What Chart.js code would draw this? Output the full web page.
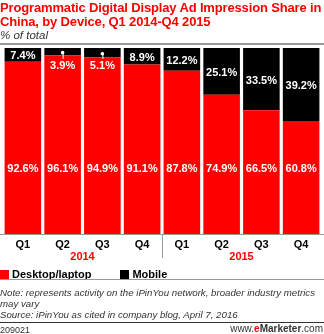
<!DOCTYPE html>
<html><head><meta charset="utf-8">
<script src="https://cdn.jsdelivr.net/npm/chart.js@4"></script>
<style>
html,body{margin:0;padding:0;background:#fff;}
body{width:324px;height:334px;position:relative;overflow:hidden;font-family:"Liberation Sans",Arial,sans-serif;}
#wrap{position:absolute;left:0;top:0;width:324px;height:334px;}
.t{position:absolute;left:0;white-space:nowrap;}
#title{top:1px;font-weight:bold;color:#ff0000;font-size:13px;line-height:14px;letter-spacing:-0.15px;}
#sub{top:29px;font-style:italic;font-size:11.5px;color:#333;}
#hl1{position:absolute;left:0;top:43px;width:324px;height:2px;background:#999;}
#legend{top:268px;font-weight:bold;font-size:11px;}
.sw{display:inline-block;width:9px;height:9px;vertical-align:-1px;margin-right:3px;}
#hl2{position:absolute;left:0;top:279px;width:324px;height:1px;background:#999;}
#note{top:288px;font-style:italic;font-size:9.7px;line-height:10.8px;color:#333;}
#hl3{position:absolute;left:0;top:322px;width:324px;height:1px;background:#333;}
#foot1{top:325px;font-size:9px;color:#333;}
#foot2{top:323px;left:auto;right:1px;font-size:10px;color:#333;}
</style></head>
<body>
<div id="wrap"><canvas id="c" width="324" height="334"></canvas></div>
<div class="t" id="title">Programmatic Digital Display Ad Impression Share in<br>China, by Device, Q1 2014-Q4 2015</div>
<div class="t" id="sub">% of total</div>
<div id="hl1"></div>
<div class="t" id="legend"><span class="sw" style="background:#ff0000"></span>Desktop/laptop<span style="display:inline-block;width:29px"></span><span class="sw" style="background:#000"></span>Mobile</div>
<div id="hl2"></div>
<div class="t" id="note">Note: represents activity on the iPinYou network, broader industry metrics<br>may vary<br>Source: iPinYou as cited in company blog, April 7, 2016</div>
<div id="hl3"></div>
<div class="t" id="foot1">209021</div>
<div class="t" id="foot2">www.<b><span style="color:#ff0000">e</span>Marketer</b>.com</div>
<script>
const quarters = ["Q1","Q2","Q3","Q4","Q1","Q2","Q3","Q4"];
const years = ["2014","2015"];
const desktop = [92.6, 96.1, 94.9, 91.1, 87.8, 74.9, 66.5, 60.8];
const mobile = [7.4, 3.9, 5.1, 8.9, 12.2, 25.1, 33.5, 39.2];

const labelPlugin = {
  id: 'labels',
  beforeDatasetsDraw(chart) {
    const ctx = chart.ctx, a = chart.chartArea;
    ctx.save();
    ctx.strokeStyle = '#999'; ctx.lineWidth = 1;
    ctx.beginPath(); ctx.moveTo(0, a.bottom + 0.5); ctx.lineTo(324, a.bottom + 0.5); ctx.stroke();
    ctx.restore();
  },
  afterDatasetsDraw(chart) {
    const ctx = chart.ctx, a = chart.chartArea;
    const x = chart.scales.x, y = chart.scales.y;
    ctx.save();
    ctx.font = 'bold 11px "Liberation Sans", Arial, sans-serif';
    ctx.textAlign = 'center'; ctx.textBaseline = 'middle';
    ctx.fillStyle = '#fff';
    desktop.forEach((v, i) => {
      ctx.fillText(v.toFixed(1) + '%', x.getPixelForValue(i), y.getPixelForValue(35));
    });
    mobile.forEach((v, i) => {
      const cx = x.getPixelForValue(i);
      const top = y.getPixelForValue(100), bot = y.getPixelForValue(desktop[i]);
      if (v < 6) {
        const dy = (top + bot) / 2 + 1;
        ctx.fillStyle = '#fff'; ctx.strokeStyle = '#fff'; ctx.lineWidth = 1;
        ctx.beginPath(); ctx.arc(cx, dy, 1.8, 0, Math.PI * 2); ctx.fill();
        ctx.beginPath(); ctx.moveTo(cx + 0.5, dy); ctx.lineTo(cx + 0.5, top + 11); ctx.stroke();
        ctx.fillText(v.toFixed(1) + '%', cx, top + 18);
      } else {
        ctx.fillStyle = '#fff';
        ctx.fillText(v.toFixed(1) + '%', cx, (top + bot) / 2 + 1.5);
      }
    });
    ctx.fillStyle = '#000';
    quarters.forEach((q, i) => ctx.fillText(q, x.getPixelForValue(i), a.bottom + 10.5));
    ctx.fillStyle = '#ff0000';
    years.forEach((yr, j) => ctx.fillText(yr, (x.getPixelForValue(j * 4) + x.getPixelForValue(j * 4 + 3)) / 2, a.bottom + 22.5));
    const sx = Math.round((x.getPixelForValue(3) + x.getPixelForValue(4)) / 2) + 0.5;
    ctx.strokeStyle = '#999'; ctx.lineWidth = 1;
    ctx.beginPath(); ctx.moveTo(sx, a.bottom); ctx.lineTo(sx, a.bottom + 24); ctx.stroke();
    ctx.restore();
  }
};

new Chart(document.getElementById('c'), {
  type: 'bar',
  data: {
    labels: quarters.map((q, i) => q + ' ' + years[Math.floor(i / 4)]),
    datasets: [
      { label: 'Desktop/laptop', data: desktop, backgroundColor: '#ff0000', barPercentage: 0.92, categoryPercentage: 1 },
      { label: 'Mobile', data: mobile, backgroundColor: '#000000', barPercentage: 0.92, categoryPercentage: 1 }
    ]
  },
  options: {
    responsive: false, animation: false,
    layout: { padding: { top: 48, bottom: 100, left: 3, right: 3 } },
    plugins: { legend: { display: false }, tooltip: { enabled: false } },
    scales: {
      x: { stacked: true, display: false },
      y: { stacked: true, display: false, min: 0, max: 100 }
    }
  },
  plugins: [labelPlugin]
});
</script>
</body></html>
